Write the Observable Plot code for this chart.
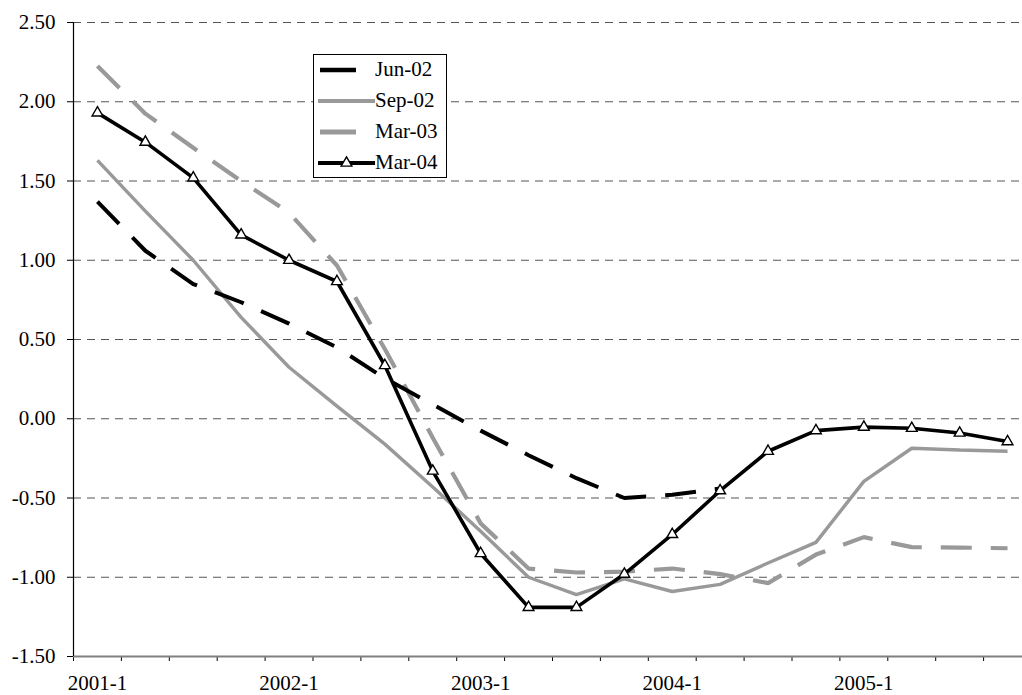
<!DOCTYPE html>
<html>
<head>
<meta charset="utf-8">
<script src="https://cdn.jsdelivr.net/npm/d3@7"></script>
<script src="https://cdn.jsdelivr.net/npm/@observablehq/plot@0.6"></script>
<style>
  html, body { margin: 0; padding: 0; background: white; }
  #wrap { position: relative; width: 1022px; height: 695px; }
  #legend {
    position: absolute; left: 313px; top: 54px; width: 134px; height: 124px;
    border: 1px solid #000; background: white; box-sizing: border-box;
    font-family: "Liberation Serif", "Times New Roman", serif; font-size: 21px; color: #000;
  }
  .row { position: absolute; left: 0; height: 30px; width: 100%; }
  .row svg { position: absolute; left: 4px; top: 0; }
  .row span { position: absolute; left: 61px; top: 50%; transform: translateY(-52%); line-height: 1; }
</style>
</head>
<body>
<div id="wrap"><div id="chart"></div><div id="legend"></div></div>
<script>
// ---- data ----
const quarters = ["2001-1","2001-2","2001-3","2001-4","2002-1","2002-2","2002-3","2002-4",
  "2003-1","2003-2","2003-3","2003-4","2004-1","2004-2","2004-3","2004-4",
  "2005-1","2005-2","2005-3","2005-4"];
const tickLabels = ["2001-1","2002-1","2003-1","2004-1","2005-1"];
const yTicks = [-1.5, -1.0, -0.5, 0, 0.5, 1.0, 1.5, 2.0, 2.5];
const seriesNames = ["Jun-02","Sep-02","Mar-03","Mar-04"];
const jun02 = [1.37, 1.06, 0.85, 0.735, 0.60, 0.45, 0.255, 0.09, -0.075, -0.23, -0.375, -0.50, -0.48, -0.44];
const sep02 = [1.63, 1.31, 1.00, 0.64, 0.325, 0.08, -0.16, -0.43, -0.71, -1.00, -1.11, -1.01, -1.09, -1.045, -0.91, -0.78, -0.395, -0.186, -0.197, -0.205];
const mar03 = [2.225, 1.925, 1.71, 1.50, 1.30, 0.967, 0.44, -0.12, -0.66, -0.945, -0.97, -0.965, -0.945, -0.98, -1.037, -0.857, -0.747, -0.81, -0.813, -0.817];
const mar04 = [1.93, 1.745, 1.52, 1.16, 1.00, 0.866, 0.336, -0.33, -0.85, -1.19, -1.19, -0.98, -0.73, -0.454, -0.205, -0.075, -0.053, -0.06, -0.09, -0.144];

// ---- styles ----
const GRAY = "#999999";
const styles = {
  "Jun-02": {stroke: "#000", strokeWidth: 4, dash: "31,19"},
  "Sep-02": {stroke: GRAY, strokeWidth: 3.4, dash: null},
  "Mar-03": {stroke: GRAY, strokeWidth: 4.2, dash: "31,19"},
  "Mar-04": {stroke: "#000", strokeWidth: 3.6, dash: null}
};
const toRows = (vals) => vals.map((v, i) => ({i, q: quarters[i], v}));
const series = {"Jun-02": toRows(jun02), "Sep-02": toRows(sep02), "Mar-03": toRows(mar03), "Mar-04": toRows(mar04)};

const labelPos = tickLabels.map(l => quarters.indexOf(l) + 0.5);
const font = "'Liberation Serif', 'Times New Roman', serif";

const lineMark = (name) => Plot.line(series[name], {
  x: d => d.i + 0.5, y: "v",
  stroke: styles[name].stroke, strokeWidth: styles[name].strokeWidth,
  strokeDasharray: styles[name].dash || undefined, strokeLinecap: "butt", strokeLinejoin: "miter"
});

const chart = Plot.plot({
  width: 1022, height: 695,
  marginLeft: 73, marginRight: 0, marginTop: 22, marginBottom: 39,
  style: {fontFamily: font, fontSize: "21px", background: "white", color: "#000", overflow: "visible"},
  x: {type: "linear", domain: [0, quarters.length], range: [73, 73 + 47.9 * quarters.length], label: null},
  y: {domain: [-1.5, 2.5], label: null},
  marks: [
    Plot.ruleY(yTicks.filter(d => d > -1.5), {stroke: "#555", strokeWidth: 1, strokeDasharray: "8,6"}),
    Plot.axisY({ticks: yTicks, tickFormat: d => d.toFixed(2), tickSize: 6, tickPadding: 12, stroke: "#000", label: null, fontSize: 21}),
    Plot.axisX({ticks: d3.range(quarters.length), tickSize: 5, tickFormat: () => "", stroke: "#000", label: null}),
    Plot.axisX({ticks: labelPos, tickSize: 0, tickPadding: 19, tickFormat: d => quarters[Math.round(d - 0.5)], label: null, fontSize: 21}),
    lineMark("Mar-03"),
    lineMark("Sep-02"),
    lineMark("Jun-02"),
    lineMark("Mar-04"),
    Plot.dot(series["Mar-04"], {x: d => d.i + 0.5, y: "v", symbol: "triangle", r: 4, fill: "white", stroke: "#000", strokeWidth: 1.4}),
    Plot.ruleY([-1.5], {stroke: "#808080", strokeWidth: 2}),
    Plot.ruleX([0], {stroke: "#000", strokeWidth: 1.2})
  ]
});
document.getElementById("chart").appendChild(chart);

// ---- legend ----
const legend = document.getElementById("legend");
seriesNames.forEach((name, k) => {
  const s = styles[name];
  const row = document.createElement("div");
  row.className = "row";
  row.style.top = (0 + k * 31) + "px";
  const dashed = !!s.dash;
  const x2 = dashed ? 38 : 57;
  let svg = `<svg width="60" height="30"><line x1="${dashed ? 2 : 0}" x2="${x2}" y1="15" y2="15" stroke="${s.stroke}" stroke-width="${s.strokeWidth + 0.6}"/>`;
  if (name === "Mar-04") {
    const sym = d3.symbol(d3.symbolTriangle, 4 * 4 * Math.PI)();
    svg += `<path d="${sym}" transform="translate(28.5,15)" fill="white" stroke="#000" stroke-width="1.4"/>`;
  }
  svg += `</svg>`;
  row.innerHTML = svg + `<span>${name}</span>`;
  legend.appendChild(row);
});
</script>
</body>
</html>
